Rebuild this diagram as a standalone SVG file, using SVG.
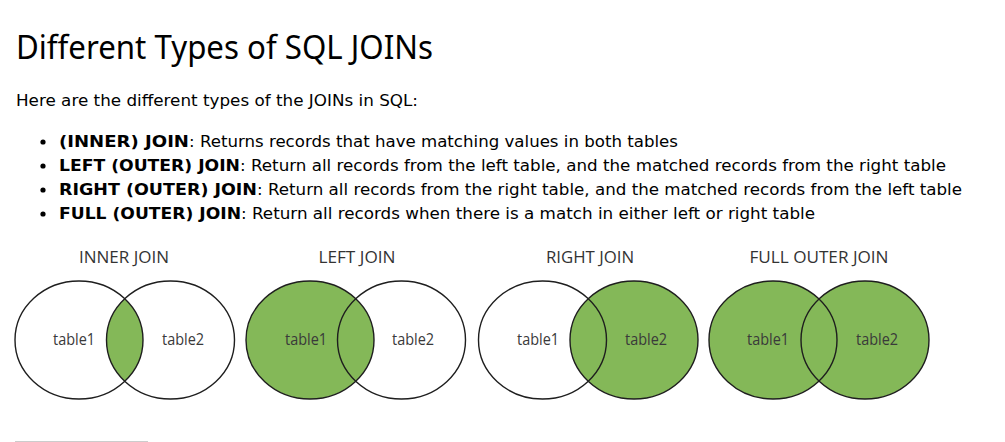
<svg xmlns="http://www.w3.org/2000/svg" width="1005" height="442" viewBox="0 0 1005 442">
<style>
.title{font-family:"Noto Sans","Open Sans",sans-serif;font-size:33px;fill:#000}
.p{font-family:"DejaVu Sans","Verdana",sans-serif;font-size:15px;fill:#000}
.b{font-weight:bold}
.lbl{font-family:"Open Sans","Lato",sans-serif;font-size:16px;fill:#333;text-anchor:middle}
.tbl{font-family:"Open Sans","Lato",sans-serif;font-size:16px;fill:#3a3a3a;text-anchor:middle}
.g{fill:#84b858}
.o{fill:none;stroke:#1e1e1e;stroke-width:1.4}
</style>
<rect width="1005" height="442" fill="#fff"/>
<text class="title" x="16" y="59" textLength="417" lengthAdjust="spacingAndGlyphs">Different Types of SQL JOINs</text>
<text class="p" x="16" y="106" textLength="402" lengthAdjust="spacingAndGlyphs">Here are the different types of the JOINs in SQL:</text>
<g id="bullets">
<circle cx="43" cy="142" r="2.6" fill="#000"/>
<circle cx="43" cy="166" r="2.6" fill="#000"/>
<circle cx="43" cy="190" r="2.6" fill="#000"/>
<circle cx="43" cy="214" r="2.6" fill="#000"/>
<text class="p b" x="59" y="147" textLength="130" lengthAdjust="spacingAndGlyphs">(INNER) JOIN</text>
<text class="p" x="189" y="147" textLength="489" lengthAdjust="spacingAndGlyphs">: Returns records that have matching values in both tables</text>
<text class="p b" x="59" y="171" textLength="181" lengthAdjust="spacingAndGlyphs">LEFT (OUTER) JOIN</text>
<text class="p" x="240" y="171" textLength="706" lengthAdjust="spacingAndGlyphs">: Return all records from the left table, and the matched records from the right table</text>
<text class="p b" x="59" y="195" textLength="198" lengthAdjust="spacingAndGlyphs">RIGHT (OUTER) JOIN</text>
<text class="p" x="257" y="195" textLength="705" lengthAdjust="spacingAndGlyphs">: Return all records from the right table, and the matched records from the left table</text>
<text class="p b" x="59" y="219" textLength="182" lengthAdjust="spacingAndGlyphs">FULL (OUTER) JOIN</text>
<text class="p" x="241" y="219" textLength="574" lengthAdjust="spacingAndGlyphs">: Return all records when there is a match in either left or right table</text>
</g>
<g id="inner-join">
<text class="lbl" x="124" y="263" textLength="90" lengthAdjust="spacingAndGlyphs">INNER JOIN</text>
<path class="g" d="M124.75 298.7 A64 59 0 0 1 124.75 381.3 A64 59 0 0 1 124.75 298.7 Z"/>
<ellipse class="o" cx="79" cy="340" rx="64" ry="59"/>
<ellipse class="o" cx="170.5" cy="340" rx="64" ry="59"/>
<text class="tbl" x="74" y="345" textLength="42" lengthAdjust="spacingAndGlyphs">table1</text>
<text class="tbl" x="183" y="345" textLength="42" lengthAdjust="spacingAndGlyphs">table2</text>
</g>
<g id="left-join">
<text class="lbl" x="357" y="263" textLength="77" lengthAdjust="spacingAndGlyphs">LEFT JOIN</text>
<ellipse class="g" cx="310" cy="340" rx="64" ry="59"/>
<ellipse class="o" cx="310" cy="340" rx="64" ry="59"/>
<ellipse class="o" cx="401.5" cy="340" rx="64" ry="59"/>
<text class="tbl" x="306" y="345" textLength="42" lengthAdjust="spacingAndGlyphs">table1</text>
<text class="tbl" x="413" y="345" textLength="42" lengthAdjust="spacingAndGlyphs">table2</text>
</g>
<g id="right-join">
<text class="lbl" x="590" y="263" textLength="88" lengthAdjust="spacingAndGlyphs">RIGHT JOIN</text>
<ellipse class="g" cx="634" cy="340" rx="64" ry="59"/>
<ellipse class="o" cx="542.5" cy="340" rx="64" ry="59"/>
<ellipse class="o" cx="634" cy="340" rx="64" ry="59"/>
<text class="tbl" x="538" y="345" textLength="42" lengthAdjust="spacingAndGlyphs">table1</text>
<text class="tbl" x="646" y="345" textLength="42" lengthAdjust="spacingAndGlyphs">table2</text>
</g>
<g id="full-outer-join">
<text class="lbl" x="819" y="263" textLength="139" lengthAdjust="spacingAndGlyphs">FULL OUTER JOIN</text>
<ellipse class="g" cx="773" cy="340" rx="64" ry="59"/>
<ellipse class="g" cx="865" cy="340" rx="64" ry="59"/>
<ellipse class="o" cx="773" cy="340" rx="64" ry="59"/>
<ellipse class="o" cx="865" cy="340" rx="64" ry="59"/>
<text class="tbl" x="768" y="345" textLength="42" lengthAdjust="spacingAndGlyphs">table1</text>
<text class="tbl" x="877" y="345" textLength="42" lengthAdjust="spacingAndGlyphs">table2</text>
</g>
<line x1="15" y1="441.5" x2="148" y2="441.5" stroke="#ccc" stroke-width="1"/>
</svg>
